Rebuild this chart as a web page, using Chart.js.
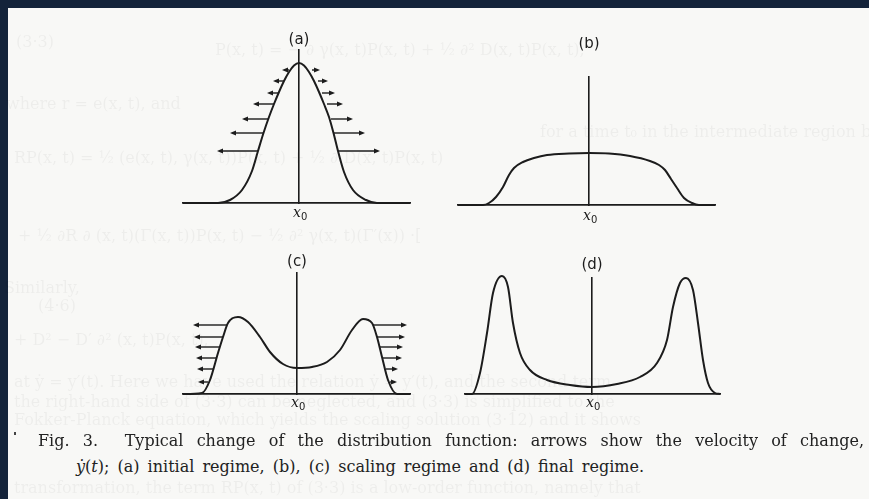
<!DOCTYPE html>
<html lang="en">
<head>
<meta charset="UTF-8">
<title>Fig. 3 - distribution function</title>
<script src="https://cdn.jsdelivr.net/npm/chart.js"></script>
<style>
  html, body { margin: 0; padding: 0; }
  body { width: 869px; height: 499px; background: #14233a; overflow: hidden; position: relative; }
  .page { position: absolute; left: 8px; top: 8px; right: 0; bottom: 0; background: #f8f8f6; }
  .panel { position: absolute; }
  .ghost { position: absolute; font-family: "DejaVu Serif", serif; font-size: 16px; color: rgba(0, 0, 0, 0.045);
           white-space: nowrap; filter: blur(0.7px); }
  .caption { position: absolute; font-family: "DejaVu Serif", serif; font-size: 16px; line-height: 18px; color: #222;
             white-space: nowrap; text-align: justify; text-align-last: justify; }
  .speck { position: absolute; left: 14px; top: 432px; width: 2px; height: 3px; background: #444; }
</style>
</head>
<body>
<div class="page"></div>

<!-- show-through from the facing page -->
<div class="ghost" style="left:16px;top:32px">(3·3)</div>
<div class="ghost" style="left:215px;top:40px">P(x, t) = − ∂ γ(x, t)P(x, t) + ½ ∂² D(x, t)P(x, t),</div>
<div class="ghost" style="left:6px;top:94px">where r = e(x, t), and</div>
<div class="ghost" style="left:540px;top:122px">for a time t₀ in the intermediate region between the scaling and final</div>
<div class="ghost" style="left:14px;top:148px">RP(x, t) = ½ (e(x, t), γ(x, t))P(x, t) + ½ ∂ D(x, t)P(x, t)</div>
<div class="ghost" style="left:18px;top:226px">+ ½ ∂R ∂ (x, t)(Γ(x, t))P(x, t) − ½ ∂² γ(x, t)(Γ′(x))  ·[</div>
<div class="ghost" style="left:4px;top:278px">Similarly,</div>
<div class="ghost" style="left:38px;top:296px">(4·6)</div>
<div class="ghost" style="left:14px;top:330px">+ D² − D′ ∂² (x, t)P(x, t),</div>
<div class="ghost" style="left:14px;top:372px">at ẏ = y′(t).  Here we have used the relation ẏ = y′(t), and the second term</div>
<div class="ghost" style="left:14px;top:392px">the right-hand side of (3·3) can be neglected, and (3·3) is simplified to the</div>
<div class="ghost" style="left:14px;top:410px">Fokker-Planck equation, which yields the scaling solution (3·12) and it shows</div>
<div class="ghost" style="left:14px;top:478px">transformation, the term RP(x, t) of (3·3) is a low-order function, namely that</div>

<div class="panel" id="wrapA"><canvas id="panelA"></canvas></div>
<div class="panel" id="wrapB"><canvas id="panelB"></canvas></div>
<div class="panel" id="wrapC"><canvas id="panelC"></canvas></div>
<div class="panel" id="wrapD"><canvas id="panelD"></canvas></div>

<div class="speck"></div>
<div class="caption" style="left:38px;top:432px;width:826px">Fig. 3.&nbsp; Typical change of the distribution function: arrows show the velocity of change,</div>
<div class="caption" style="left:76px;top:458px;width:568px"><i>ẏ</i>(<i>t</i>); (a) initial regime, (b), (c) scaling regime and (d) final regime.</div>

<script>
// panel titles and the origin mark under each vertical axis
const panelTitles = ['(a)', '(b)', '(c)', '(d)'];
const originLabel = ['x', '0'];

// (a) initial regime: single peak
const aX = [-1.16, -0.81, -0.69, -0.57, -0.47, -0.41, -0.355, -0.30, -0.25, -0.20, -0.15, -0.10, -0.05, 0,
            0.05, 0.10, 0.15, 0.20, 0.25, 0.30, 0.345, 0.39, 0.45, 0.54, 0.67, 0.78, 1.11];
const aY = [0, 0, 0.03, 0.13, 0.32, 0.52, 0.70, 0.86, 0.99, 1.11, 1.22, 1.31, 1.375, 1.40,
            1.375, 1.31, 1.22, 1.11, 0.99, 0.86, 0.70, 0.52, 0.31, 0.13, 0.03, 0, 0];
const aArrowY = [1.33, 1.22, 1.10, 0.99, 0.84, 0.70, 0.52];
const aLeftFrom = [-0.10, -0.15, -0.20, -0.25, -0.30, -0.355, -0.41];
const aLeftTo = [-0.17, -0.26, -0.32, -0.46, -0.57, -0.69, -0.82];
const aRightFrom = [0.13, 0.19, 0.23, 0.28, 0.32, 0.35, 0.39];
const aRightTo = [0.21, 0.29, 0.36, 0.44, 0.54, 0.66, 0.81];

// (b) scaling regime: flat top
const bX = [-1.31, -1.06, -1.00, -0.93, -0.86, -0.80, -0.75, -0.66, -0.55, -0.42, -0.20, 0,
            0.20, 0.41, 0.61, 0.70, 0.76, 0.82, 0.88, 0.95, 1.03, 1.10, 1.26];
const bY = [0, 0, 0.02, 0.08, 0.18, 0.30, 0.37, 0.43, 0.47, 0.50, 0.515, 0.52,
            0.515, 0.49, 0.44, 0.40, 0.35, 0.26, 0.17, 0.07, 0.02, 0, 0];

// (c) scaling regime: two humps moving outwards
const cX = [-1.14, -0.95, -0.87, -0.79, -0.74, -0.69, -0.59, -0.49, -0.37, -0.27, -0.14, 0,
            0.15, 0.30, 0.43, 0.55, 0.66, 0.75, 0.80, 0.85, 0.91, 1.00, 1.13];
const cY = [0, 0.01, 0.14, 0.41, 0.57, 0.71, 0.77, 0.72, 0.57, 0.42, 0.30, 0.26,
            0.27, 0.32, 0.44, 0.64, 0.75, 0.71, 0.57, 0.37, 0.14, 0, 0];
const cArrowY = [0.69, 0.57, 0.47, 0.36, 0.25, 0.12];
const cLeftFrom = [-0.70, -0.74, -0.77, -0.80, -0.84, -0.89];
const cLeftTo = [-1.04, -1.03, -1.02, -1.01, -1.00, -0.99];
const cRightFrom = [0.76, 0.80, 0.83, 0.86, 0.89, 0.93];
const cRightTo = [1.10, 1.08, 1.06, 1.05, 1.01, 1.00];

// (d) final regime: sharp peaks at the edges
const dX = [-1.27, -1.20, -1.12, -1.05, -0.99, -0.90, -0.84, -0.79, -0.72, -0.62, -0.45, -0.22, 0,
            0.25, 0.48, 0.65, 0.75, 0.81, 0.88, 0.94, 1.01, 1.06, 1.11, 1.16, 1.23, 1.28];
const dY = [0, 0, 0.21, 0.61, 1.01, 1.18, 1.07, 0.71, 0.41, 0.24, 0.14, 0.09, 0.07,
            0.10, 0.17, 0.31, 0.54, 0.87, 1.11, 1.16, 1.04, 0.71, 0.34, 0.11, 0.01, 0];

const ink = '#1c1c1c';
const pad = 40;

const toPoints = (xs, ys) => xs.map((x, i) => ({ x: x, y: ys[i] }));

// horizontal velocity arrows, placed through the panel's own scales
const arrowPlugin = {
    id: 'velocityArrows',
    afterDatasetsDraw(chart, args, opts) {
        const { ctx, scales: { x, y } } = chart;
        ctx.save();
        ctx.strokeStyle = ink;
        ctx.fillStyle = ink;
        ctx.lineWidth = 1.4;
        (opts.sets || []).forEach(set => {
            set.y.forEach((v, i) => {
                const py = y.getPixelForValue(v);
                const x0 = x.getPixelForValue(set.from[i]);
                const x1 = x.getPixelForValue(set.to[i]);
                const dir = Math.sign(x1 - x0);
                ctx.beginPath();
                ctx.moveTo(x0, py);
                ctx.lineTo(x1 - dir * 4, py);
                ctx.stroke();
                ctx.beginPath();
                ctx.moveTo(x1, py);
                ctx.lineTo(x1 - dir * 6, py - 2.4);
                ctx.lineTo(x1 - dir * 6, py + 2.4);
                ctx.closePath();
                ctx.fill();
            });
        });
        ctx.restore();
    }
};

// "(a)" over the vertical axis and x0 under it
const labelPlugin = {
    id: 'panelLabels',
    afterDraw(chart, args, opts) {
        const { ctx, chartArea, scales: { x } } = chart;
        const cx = x.getPixelForValue(0);
        ctx.save();
        ctx.fillStyle = ink;
        ctx.textBaseline = 'middle';
        ctx.textAlign = 'center';
        ctx.font = '15px "DejaVu Sans"';
        ctx.fillText(opts.title, cx, chartArea.top - opts.titleGap);
        const by = chartArea.bottom + opts.originGap;
        ctx.font = 'italic 14px "DejaVu Serif"';
        ctx.textAlign = 'right';
        ctx.fillText(originLabel[0], cx + 2, by);
        ctx.font = '10px "DejaVu Sans"';
        ctx.textAlign = 'left';
        ctx.fillText(originLabel[1], cx + 2, by + 4);
        ctx.restore();
    }
};

function makePanel(canvasId, wrapId, box, xs, ys, arrows, title, titleGap, originGap) {
    const wrap = document.getElementById(wrapId);
    wrap.style.left = (box.left - pad) + 'px';
    wrap.style.top = (box.top - pad) + 'px';
    wrap.style.width = (box.right - box.left + 2 * pad) + 'px';
    wrap.style.height = (box.bottom - box.top + 2 * pad) + 'px';

    // one unit = 100 px, measured from the vertical axis and the baseline
    const xMin = (box.left - box.axis) / 100;
    const xMax = (box.right - box.axis) / 100;
    const yMax = (box.bottom - box.top) / 100;

    new Chart(document.getElementById(canvasId), {
        type: 'scatter',
        data: {
            datasets: [{
                data: toPoints(xs, ys),
                showLine: true,
                borderColor: ink,
                borderWidth: 2,
                pointRadius: 0,
                cubicInterpolationMode: 'monotone',
                clip: 12
            }]
        },
        options: {
            responsive: true,
            maintainAspectRatio: false,
            animation: false,
            layout: { padding: pad },
            events: [],
            plugins: {
                legend: { display: false },
                tooltip: { enabled: false },
                velocityArrows: { sets: arrows },
                panelLabels: { title: title, titleGap: titleGap, originGap: originGap }
            },
            scales: {
                x: {
                    type: 'linear',
                    min: xMin,
                    max: xMax,
                    grid: { display: false, drawTicks: false },
                    ticks: { display: false },
                    border: { display: true, color: ink, width: 1.8 }
                },
                y: {
                    type: 'linear',
                    position: { x: 0 },
                    min: 0,
                    max: yMax,
                    grid: { display: false, drawTicks: false },
                    ticks: { display: false },
                    border: { display: true, color: ink, width: 1.6 }
                }
            }
        },
        plugins: [arrowPlugin, labelPlugin]
    });
}

makePanel('panelA', 'wrapA', { left: 183, right: 410, top: 50, bottom: 203, axis: 299 }, aX, aY, [
    { y: aArrowY, from: aLeftFrom, to: aLeftTo },
    { y: aArrowY, from: aRightFrom, to: aRightTo }
], panelTitles[0], 10, 10);

makePanel('panelB', 'wrapB', { left: 458, right: 715, top: 77, bottom: 205, axis: 589 }, bX, bY, [],
    panelTitles[1], 33, 11);

makePanel('panelC', 'wrapC', { left: 183, right: 410, top: 273, bottom: 394, axis: 297 }, cX, cY, [
    { y: cArrowY, from: cLeftFrom, to: cLeftTo },
    { y: cArrowY, from: cRightFrom, to: cRightTo }
], panelTitles[2], 11, 9);

makePanel('panelD', 'wrapD', { left: 465, right: 720, top: 278, bottom: 394, axis: 592 }, dX, dY, [],
    panelTitles[3], 13, 9);
</script>
</body>
</html>
